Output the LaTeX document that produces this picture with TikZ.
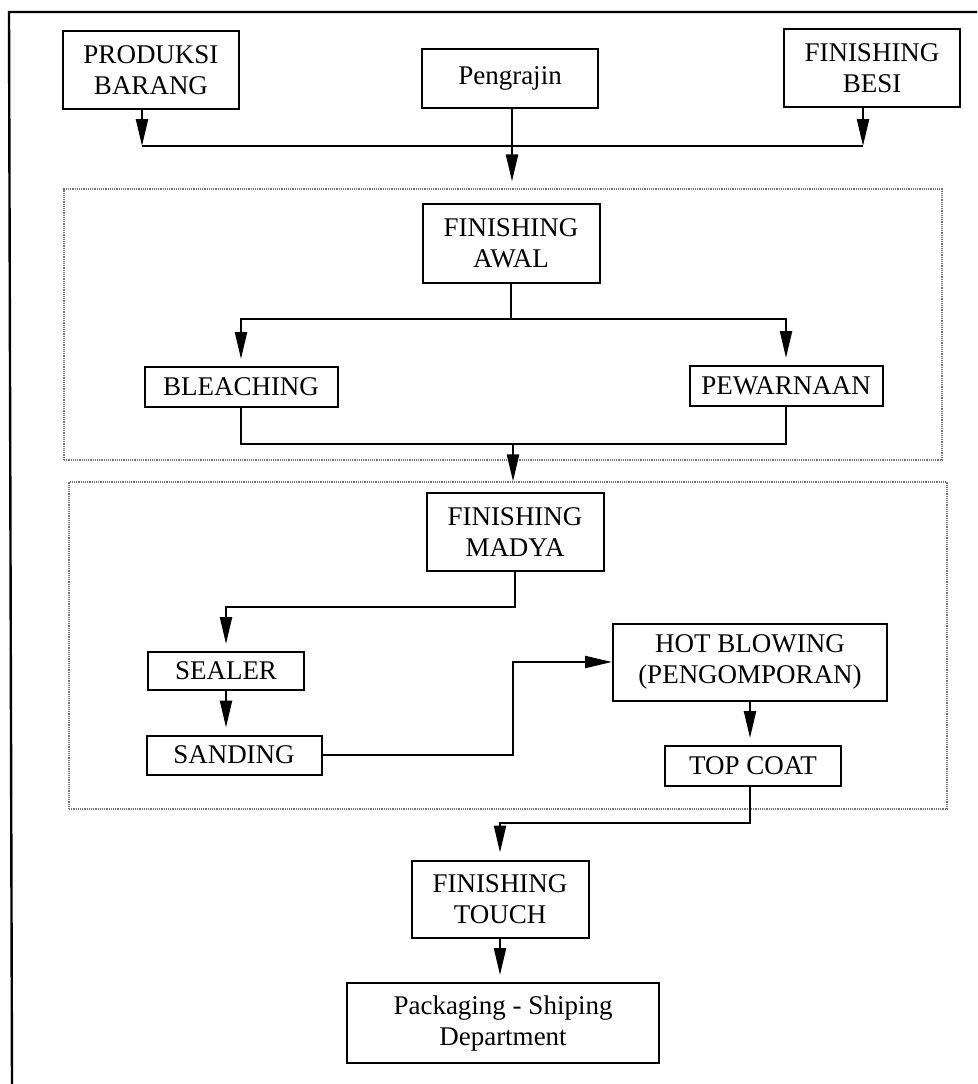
\documentclass[tikz,border=0pt]{standalone}
\usepackage{fontspec}
\setmainfont{Liberation Serif}
\usetikzlibrary{arrows.meta}

\begin{document}
\begin{tikzpicture}[x=1pt,y=-1pt,>={Triangle[length=27pt,width=12pt]},
                    line width=2.2pt,
                    box/.style={draw,rectangle,line width=2pt,align=center,inner sep=0pt,
                                font=\fontsize{27}{31}\selectfont},
                    group/.style={draw=black!55,densely dotted,line width=1.2pt,rectangle,inner sep=0pt},
                    stop/.style={->,shorten >=7pt}]

  \useasboundingbox (0,0) rectangle (977,1084);
  \draw[line width=2.4pt] (977,12) -- (9,12) -- (12,1084);

  % stage groups
  \node[group,minimum width=878pt,minimum height=271pt] (grpawal)  at (503,324.5) {};
  \node[group,minimum width=878pt,minimum height=327pt] (grpmadya) at (508,645.5) {};

  \node[box,minimum width=176pt,minimum height=78pt]  (prod)    at (151,70)   {PRODUKSI\\BARANG};
  \node[box,minimum width=176pt,minimum height=59pt]  (pengr)   at (510,78.5) {Pengrajin};
  \node[box,minimum width=176pt,minimum height=78pt]  (besi)    at (872,68)   {FINISHING\\BESI};

  \node[box,minimum width=177pt,minimum height=79pt]  (awal)    at (511,243)  {FINISHING\\AWAL};
  \node[box,minimum width=193pt,minimum height=40pt]  (bleach)  at (241,387)  {BLEACHING};
  \node[box,minimum width=193pt,minimum height=40pt]  (warna)   at (786,386)  {PEWARNAAN};

  \node[box,minimum width=177pt,minimum height=78pt]  (madya)   at (515,532)  {FINISHING\\MADYA};
  \node[box,minimum width=156pt,minimum height=38pt]  (sealer)  at (226,671)  {SEALER};
  \node[box,minimum width=175pt,minimum height=39pt]  (sanding) at (234,755)  {SANDING};
  \node[box,minimum width=274pt,minimum height=77pt]  (blowing) at (750,662)  {HOT BLOWING\\(PENGOMPORAN)};
  \node[box,minimum width=176pt,minimum height=40pt]  (topcoat) at (753,766)  {TOP COAT};

  \node[box,minimum width=177pt,minimum height=77pt]  (touch)   at (500,899)  {FINISHING\\TOUCH};
  \node[box,minimum width=312pt,minimum height=80pt]  (pack)    at (503,1023) {Packaging - Shiping\\Department};

  % junctions
  \coordinate (jL) at (142,146);
  \coordinate (jM) at (512,146);
  \coordinate (jR) at (863,146);
  \coordinate (jA) at (511,319);
  \coordinate (jB) at (513,444);
  \coordinate (jC) at (515,607);
  \coordinate (jD) at (513,0);
  \coordinate (jE) at (750,823);

  \draw[->] (prod.south -| jL) -- (jL);
  \draw[->] (besi.south -| jR) -- (jR);
  \draw (jL) -- (jR);
  \draw[stop] (pengr.south -| jM) -- (jM |- grpawal.north);

  \draw (awal.south -| jA) -- (jA);
  \draw[stop] (jA) -| (bleach.north);
  \draw[stop] (jA) -| (warna.north);
  \draw (bleach.south) |- (jB) -| (warna.south);
  \draw[->] (jB) -- (jB |- grpmadya.north);

  \draw[stop] (madya.south -| jC) -- (jC) -| (sealer.north);
  \draw[stop] (sealer.south) -- (sealer.south |- sanding.north);
  \draw[->] (sanding.east) -- (sanding.east -| jD) -- (blowing.west -| jD) -- (blowing.west);
  \draw[stop] (blowing.south) -- (blowing.south |- topcoat.north);
  \draw[stop] (topcoat.south -| jE) -- (jE) -| (touch.north);
  \draw[stop] (touch.south) -- (touch.south |- pack.north);
\end{tikzpicture}
\end{document}
